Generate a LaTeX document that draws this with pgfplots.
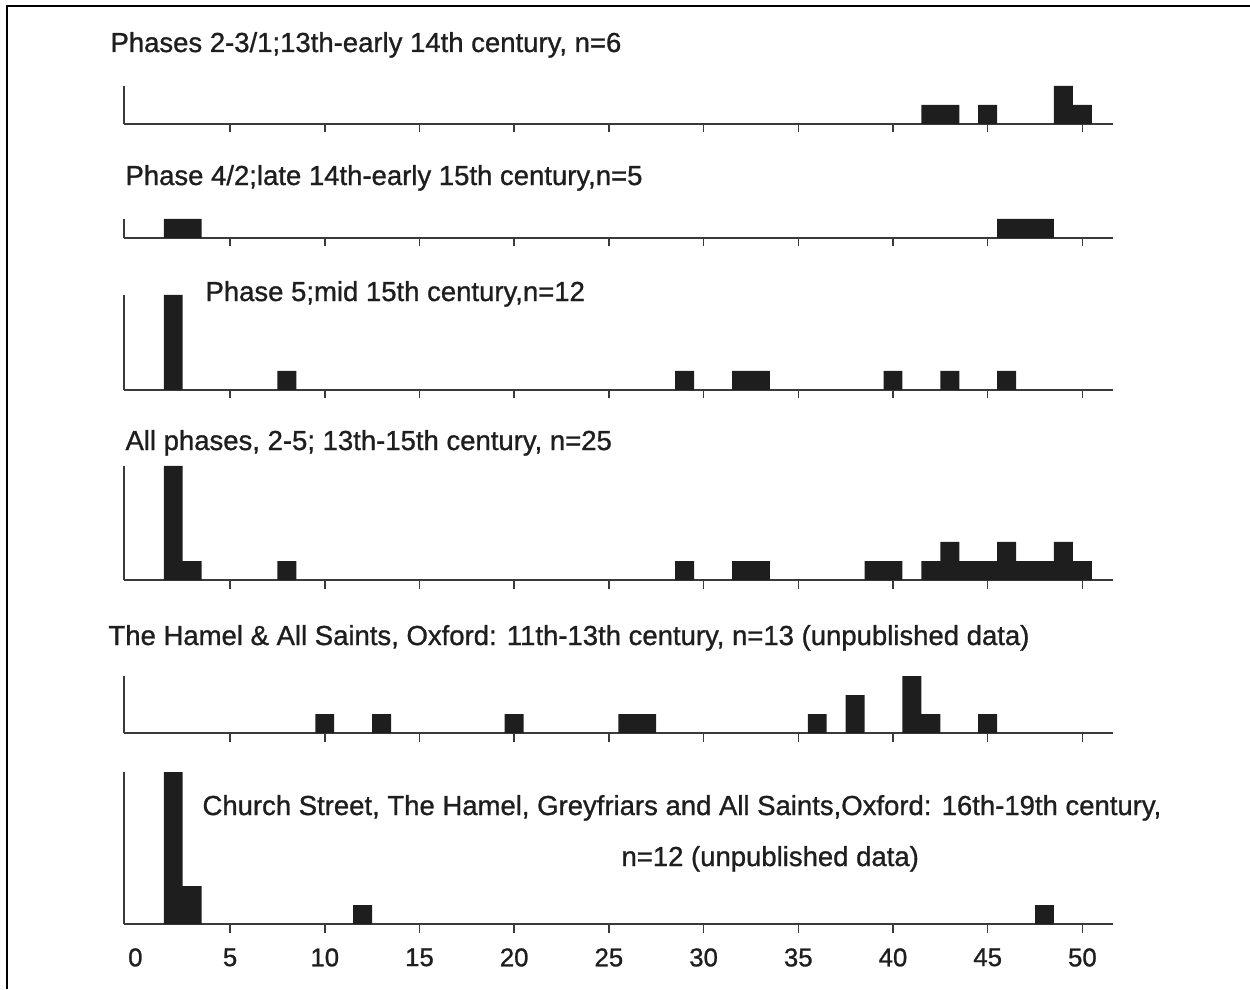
\documentclass[border=0pt]{standalone}
\usepackage{fontspec}
\setmainfont{Liberation Sans}[FakeBold=1.0]
\usepackage{pgfplots}
\pgfplotsset{compat=1.18}

\definecolor{ink}{HTML}{1E1E1E}
\definecolor{rule}{HTML}{3A3A3A}

% counts per 1-unit class, centred on the class value
\pgfplotstableread{
x  n
42 1
43 1
45 1
49 2
50 1
}\phaseA
\pgfplotstableread{
x  n
2  1
3  1
46 1
47 1
48 1
}\phaseB
\pgfplotstableread{
x  n
2  5
8  1
29 1
32 1
33 1
40 1
43 1
46 1
}\phaseC
\pgfplotstableread{
x  n
2  6
3  1
8  1
29 1
32 1
33 1
39 1
40 1
42 1
43 2
44 1
45 1
46 2
47 1
48 1
49 2
50 1
}\phaseAll
\pgfplotstableread{
x  n
10 1
13 1
20 1
26 1
27 1
36 1
38 2
41 3
42 1
45 1
}\hamel
\pgfplotstableread{
x  n
2  8
3  2
12 1
48 1
}\church

\pgfplotsset{
  panel/.style={
    anchor=south west,
    x=7.576pt, y=7.6pt,
    xmin=-0.6, xmax=51.6, ymin=0,
    axis x line*=bottom, axis y line*=left,
    axis line style={rule, line width=0.7pt, -},
    xtick={5,10,...,50}, ytick=\empty,
    tick align=outside, major tick length=3.4pt,
    tick style={rule, line width=0.6pt},
    clip=false,
  },
  nolabels/.style={xticklabels={}},
  bars/.style={ybar, bar width=1, bar shift=0pt, fill=ink, draw=none},
}

\newcommand\ttl{\fontsize{11}{13}\selectfont}

\begin{document}
\begin{tikzpicture}[x=0.4pt, y=0.4pt]
\path[use as bounding box] (0,0) rectangle (1250,989);
\draw[line width=1pt] (7,0) -- (7,983) -- (1250,983);

% axis origins in pt (1 px = 0.4 pt)
\begin{axis}[panel, nolabels, at={(49.6pt,346.0pt)}, ymax=2]
  \addplot[bars] table[x=x, y=n] {\phaseA};
\end{axis}
\begin{axis}[panel, nolabels, at={(49.6pt,300.4pt)}, ymax=1]
  \addplot[bars] table[x=x, y=n] {\phaseB};
\end{axis}
\begin{axis}[panel, nolabels, at={(49.6pt,239.6pt)}, ymax=5]
  \addplot[bars] table[x=x, y=n] {\phaseC};
\end{axis}
\begin{axis}[panel, nolabels, at={(49.6pt,163.6pt)}, ymax=6]
  \addplot[bars] table[x=x, y=n] {\phaseAll};
\end{axis}
\begin{axis}[panel, nolabels, at={(49.6pt,102.4pt)}, ymax=3]
  \addplot[bars] table[x=x, y=n] {\hamel};
\end{axis}
\begin{axis}[panel, at={(49.6pt,26.0pt)}, ymax=8,
    xticklabel={\pgfmathprintnumber[assume math mode=true]{\tick}},
    xticklabel style={font=\fontsize{10.3}{12}\selectfont, text=ink, yshift=-2.8pt},
    extra x ticks={0},
    extra x tick style={tick style={draw=none}}]
  \addplot[bars] table[x=x, y=n] {\church};
\end{axis}

\begin{scope}[every node/.style={anchor=base west, inner sep=0pt, font=\ttl, text=ink}]
\node at (110,937) {Phases 2-3/1;13th-early 14th century, n=6};
\node at (125,804) {Phase 4/2;late 14th-early 15th century,n=5};
\node at (205,688) {Phase 5;mid 15th century,n=12};
\node at (125,539) {All phases, 2-5; 13th-15th century, n=25};
\node at (108,344) {The Hamel \& All Saints, Oxford: 11th-13th century, n=13 (unpublished data)};
\node at (202,174) {Church Street, The Hamel, Greyfriars and All Saints,Oxford: 16th-19th century,};
\node at (621,123) {n=12 (unpublished data)};
\end{scope}
\end{tikzpicture}
\end{document}
